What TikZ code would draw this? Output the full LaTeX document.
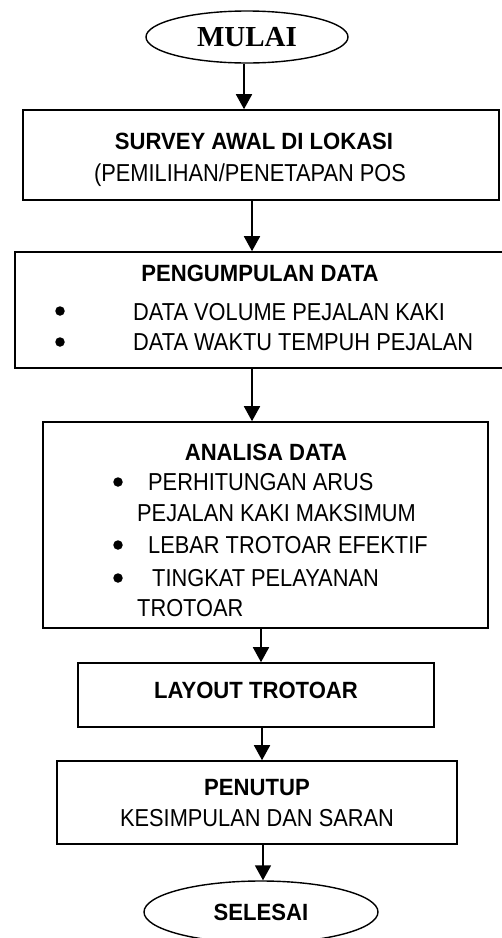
\documentclass[tikz,border=0pt]{standalone}
\usepackage{fontspec}
\setmainfont{Liberation Sans}
\newfontfamily\narrowreg[FakeStretch=0.89]{Liberation Sans}
\newfontfamily\narrowbold[FakeStretch=0.94]{Liberation Sans Bold}
\newfontfamily\serifbold{Liberation Serif Bold}
\usetikzlibrary{shapes.geometric,arrows.meta}
\tikzset{
  x=1pt, y=-1pt,
  boxstyle/.style={draw, line width=1.6pt, rectangle, inner sep=0pt},
  ovalstyle/.style={draw, line width=1.4pt, ellipse, inner sep=0pt},
  txt/.style={inner sep=0pt, font=\narrowreg\fontsize{24.5}{27}\selectfont},
  txtb/.style={inner sep=0pt, font=\narrowbold\fontsize{23.5}{26}\selectfont},
  bul/.style={circle, fill=black, inner sep=0pt, minimum size=9.5pt},
  arr/.style={line width=1.8pt, -{Triangle[length=15pt, width=16pt]}},
}
\begin{document}
\begin{tikzpicture}
\useasboundingbox (0,0) rectangle (502,938);

% shapes
\node[ovalstyle, minimum width=202pt, minimum height=52pt] (mulai) at (247,37) {};
\node[boxstyle, minimum width=476pt, minimum height=90pt] (box1) at (261,155) {};
\node[boxstyle, minimum width=489pt, minimum height=116pt] (box2) at (259.5,310) {};
\node[boxstyle, minimum width=445pt, minimum height=206pt] (box3) at (265.5,525) {};
\node[boxstyle, minimum width=356pt, minimum height=64pt] (box4) at (256,695) {};
\node[boxstyle, minimum width=400pt, minimum height=83pt] (box5) at (257,802.5) {};
\node[ovalstyle, minimum width=234pt, minimum height=62pt] (selesai) at (261,912) {};

% texts
\node[inner sep=0pt, font=\serifbold\fontsize{29}{32}\selectfont] (tmulai) at (247,37) {MULAI};
\node[txtb] (t1a) at (254,141) {SURVEY AWAL DI LOKASI};
\node[txt] (t1b) at (250,175) {(PEMILIHAN/PENETAPAN POS};

\node[txtb] (t2a) at (260,273) {PENGUMPULAN DATA};
\node[bul] (b21) at (60,311) {};
\node[bul] (b22) at (60,342) {};
\node[txt, anchor=west] (t2b) at (133,312) {DATA VOLUME PEJALAN KAKI};
\node[txt, anchor=west] (t2c) at (133,342) {DATA WAKTU TEMPUH PEJALAN};

\node[txtb] (t3a) at (266,452) {ANALISA DATA};
\node[bul] (b31) at (118,482) {};
\node[bul] (b32) at (118,545) {};
\node[bul] (b33) at (118,578) {};
\node[txt, anchor=west] (t3b) at (148,482) {PERHITUNGAN ARUS};
\node[txt, anchor=west] (t3c) at (137,513) {PEJALAN KAKI MAKSIMUM};
\node[txt, anchor=west] (t3d) at (148,545) {LEBAR TROTOAR EFEKTIF};
\node[txt, anchor=west] (t3e) at (152,578) {TINGKAT PELAYANAN};
\node[txt, anchor=west] (t3f) at (137,608) {TROTOAR};

\node[txtb] (t4) at (256,690) {LAYOUT TROTOAR};

\node[txtb] (t5a) at (257,788) {PENUTUP};
\node[txt] (t5b) at (257,818) {KESIMPULAN DAN SARAN};

\node[txtb] (t6) at (261,912) {SELESAI};

% arrows
\coordinate (x1) at (244,0);
\coordinate (x2) at (252,0);
\coordinate (x3) at (252,0);
\coordinate (x4) at (261,0);
\coordinate (x5) at (262,0);
\coordinate (x6) at (263,0);
\draw[arr] (mulai.south -| x1) -- (box1.north -| x1);
\draw[arr] (box1.south -| x2) -- (box2.north -| x2);
\draw[arr] (box2.south -| x3) -- (box3.north -| x3);
\draw[arr] (box3.south -| x4) -- (box4.north -| x4);
\draw[arr] (box4.south -| x5) -- (box5.north -| x5);
\draw[arr] (box5.south -| x6) -- (selesai.north -| x6);
\end{tikzpicture}
\end{document}
